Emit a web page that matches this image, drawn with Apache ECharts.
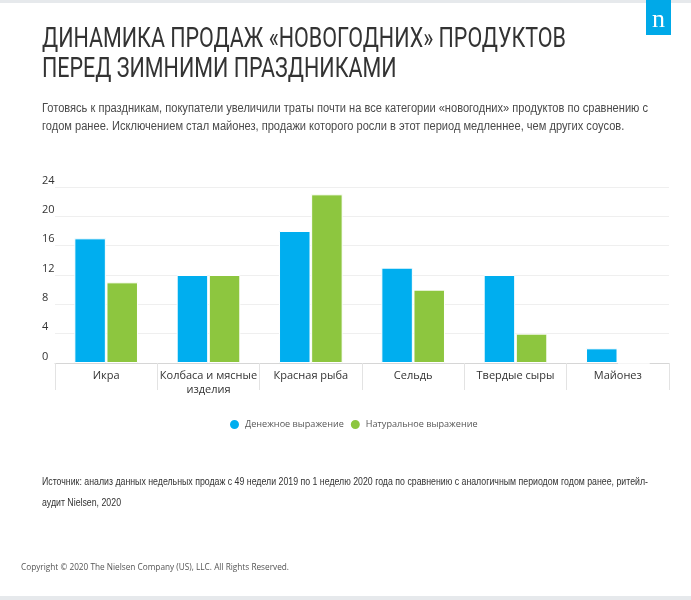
<!DOCTYPE html>
<html>
<head>
<meta charset="utf-8">
<script src="https://cdn.jsdelivr.net/npm/echarts@6/dist/echarts.min.js"></script>
<style>
html,body{margin:0;padding:0;background:#fff;}
#chart{width:691px;height:600px;}
</style>
</head>
<body>
<div id="chart"></div>
<script>
var categories = ['Икра', 'Колбаса и мясные\nизделия', 'Красная рыба', 'Сельдь', 'Твердые сыры', 'Майонез'];
var moneyValues = [17, 12, 18, 13, 12, 2];
var volumeValues = [11, 12, 23, 10, 4, 0];
var seriesNames = ['Денежное выражение', 'Натуральное выражение'];
var yTicks = [0, 4, 8, 12, 16, 20, 24];

var titleLines = ['ДИНАМИКА ПРОДАЖ «НОВОГОДНИХ» ПРОДУКТОВ', 'ПЕРЕД ЗИМНИМИ ПРАЗДНИКАМИ'];
var subtitleLines = ['Готовясь к праздникам, покупатели увеличили траты почти на все категории «новогодних» продуктов по сравнению с',
  'годом ранее. Исключением стал майонез, продажи которого росли в этот период медленнее, чем других соусов.'];
var sourceLines = ['Источник: анализ данных недельных продаж с 49 недели 2019 по 1 неделю 2020 года по сравнению с аналогичным периодом годом ранее, ритейл-',
  'аудит Nielsen, 2020'];
var copyrightText = 'Copyright © 2020 The Nielsen Company (US), LLC. All Rights Reserved.';

var mctx = document.createElement('canvas').getContext('2d');
function fitScale(text, font, target) {
  mctx.font = font;
  var w = mctx.measureText(text).width;
  return target / w;
}

var titleFont = '28px Roboto';
var titleScale = fitScale(titleLines[0], titleFont, 524);
var subFont = '12px "Liberation Sans"';
var subScale = fitScale(subtitleLines[0], subFont, 606);
var srcFont = '10px "Liberation Sans"';
var srcScale = fitScale(sourceLines[0], srcFont, 606);
var cpFont = '9px "Open Sans"';
var cpScale = fitScale(copyrightText, cpFont, 268);

function textEl(x, y, text, font, color, scale) {
  return {type: 'text', x: x, y: y, scaleX: scale, silent: true,
    style: {text: text, font: font, fill: color, textVerticalAlign: 'middle', textAlign: 'left'}};
}

var graphics = [
  {type: 'rect', shape: {x: 0, y: 0, width: 691, height: 3}, style: {fill: '#e6e9ec'}, silent: true},
  {type: 'rect', shape: {x: 0, y: 596, width: 691, height: 4}, style: {fill: '#e6e9ec'}, silent: true},
  {type: 'rect', shape: {x: 646, y: 0, width: 25, height: 35}, style: {fill: '#00a9e8'}, silent: true},
  {type: 'text', x: 658.5, y: 20, silent: true, style: {text: 'n', font: '26px "Liberation Serif"', fill: '#fff', textAlign: 'center', textVerticalAlign: 'middle'}},
  textEl(42, 39.5, titleLines[0], titleFont, '#333333', titleScale),
  textEl(42, 69.5, titleLines[1], titleFont, '#333333', titleScale),
  textEl(42, 109, subtitleLines[0], subFont, '#4a4a4a', subScale),
  textEl(42, 126.5, subtitleLines[1], subFont, '#4a4a4a', subScale),
  textEl(42, 482.5, sourceLines[0], srcFont, '#333333', srcScale),
  textEl(42, 503, sourceLines[1], srcFont, '#333333', srcScale),
  textEl(21, 567.5, copyrightText, cpFont, '#555555', cpScale)
];

var chart = echarts.init(document.getElementById('chart'), null, {renderer: 'canvas'});
chart.setOption({
  backgroundColor: '#ffffff',
  animation: false,
  textStyle: {fontFamily: '"Open Sans", sans-serif'},
  color: ['#00aeef', '#8dc63f'],
  grid: {left: 55, right: 22, top: 187, bottom: 237, containLabel: false},
  legend: {
    data: seriesNames,
    left: 223, top: 413,
    icon: 'circle', itemWidth: 11, itemHeight: 11, itemGap: 5,
    textStyle: {fontSize: 9.1, color: '#555555', fontFamily: '"Open Sans", sans-serif'}
  },
  xAxis: {
    type: 'category',
    data: categories,
    axisLine: {lineStyle: {color: '#d6d6d6', width: 1}},
    axisTick: {show: true, length: 27, lineStyle: {color: '#e3e3e3'}},
    axisLabel: {margin: 6, fontSize: 11, lineHeight: 14, color: '#333333', fontFamily: '"Open Sans", sans-serif', interval: 0}
  },
  yAxis: {
    type: 'value',
    min: yTicks[0], max: yTicks[yTicks.length - 1], interval: yTicks[1] - yTicks[0],
    axisLine: {show: false},
    axisTick: {show: false},
    splitLine: {lineStyle: {color: '#efefef', width: 1}},
    axisLabel: {align: 'left', margin: 13, verticalAlign: 'bottom', padding: [0, 0, 1, 0], fontSize: 11, color: '#333333', fontFamily: '"Open Sans", sans-serif'}
  },
  series: [
    {name: seriesNames[0], type: 'bar', data: moneyValues, barWidth: 31.5, barGap: '2%',
      itemStyle: {borderColor: '#ffffff', borderWidth: 1}},
    {name: seriesNames[1], type: 'bar', data: volumeValues, barWidth: 31.5, barGap: '2%',
      itemStyle: {borderColor: '#ffffff', borderWidth: 1}}
  ],
  graphic: graphics
});
</script>
</body>
</html>
